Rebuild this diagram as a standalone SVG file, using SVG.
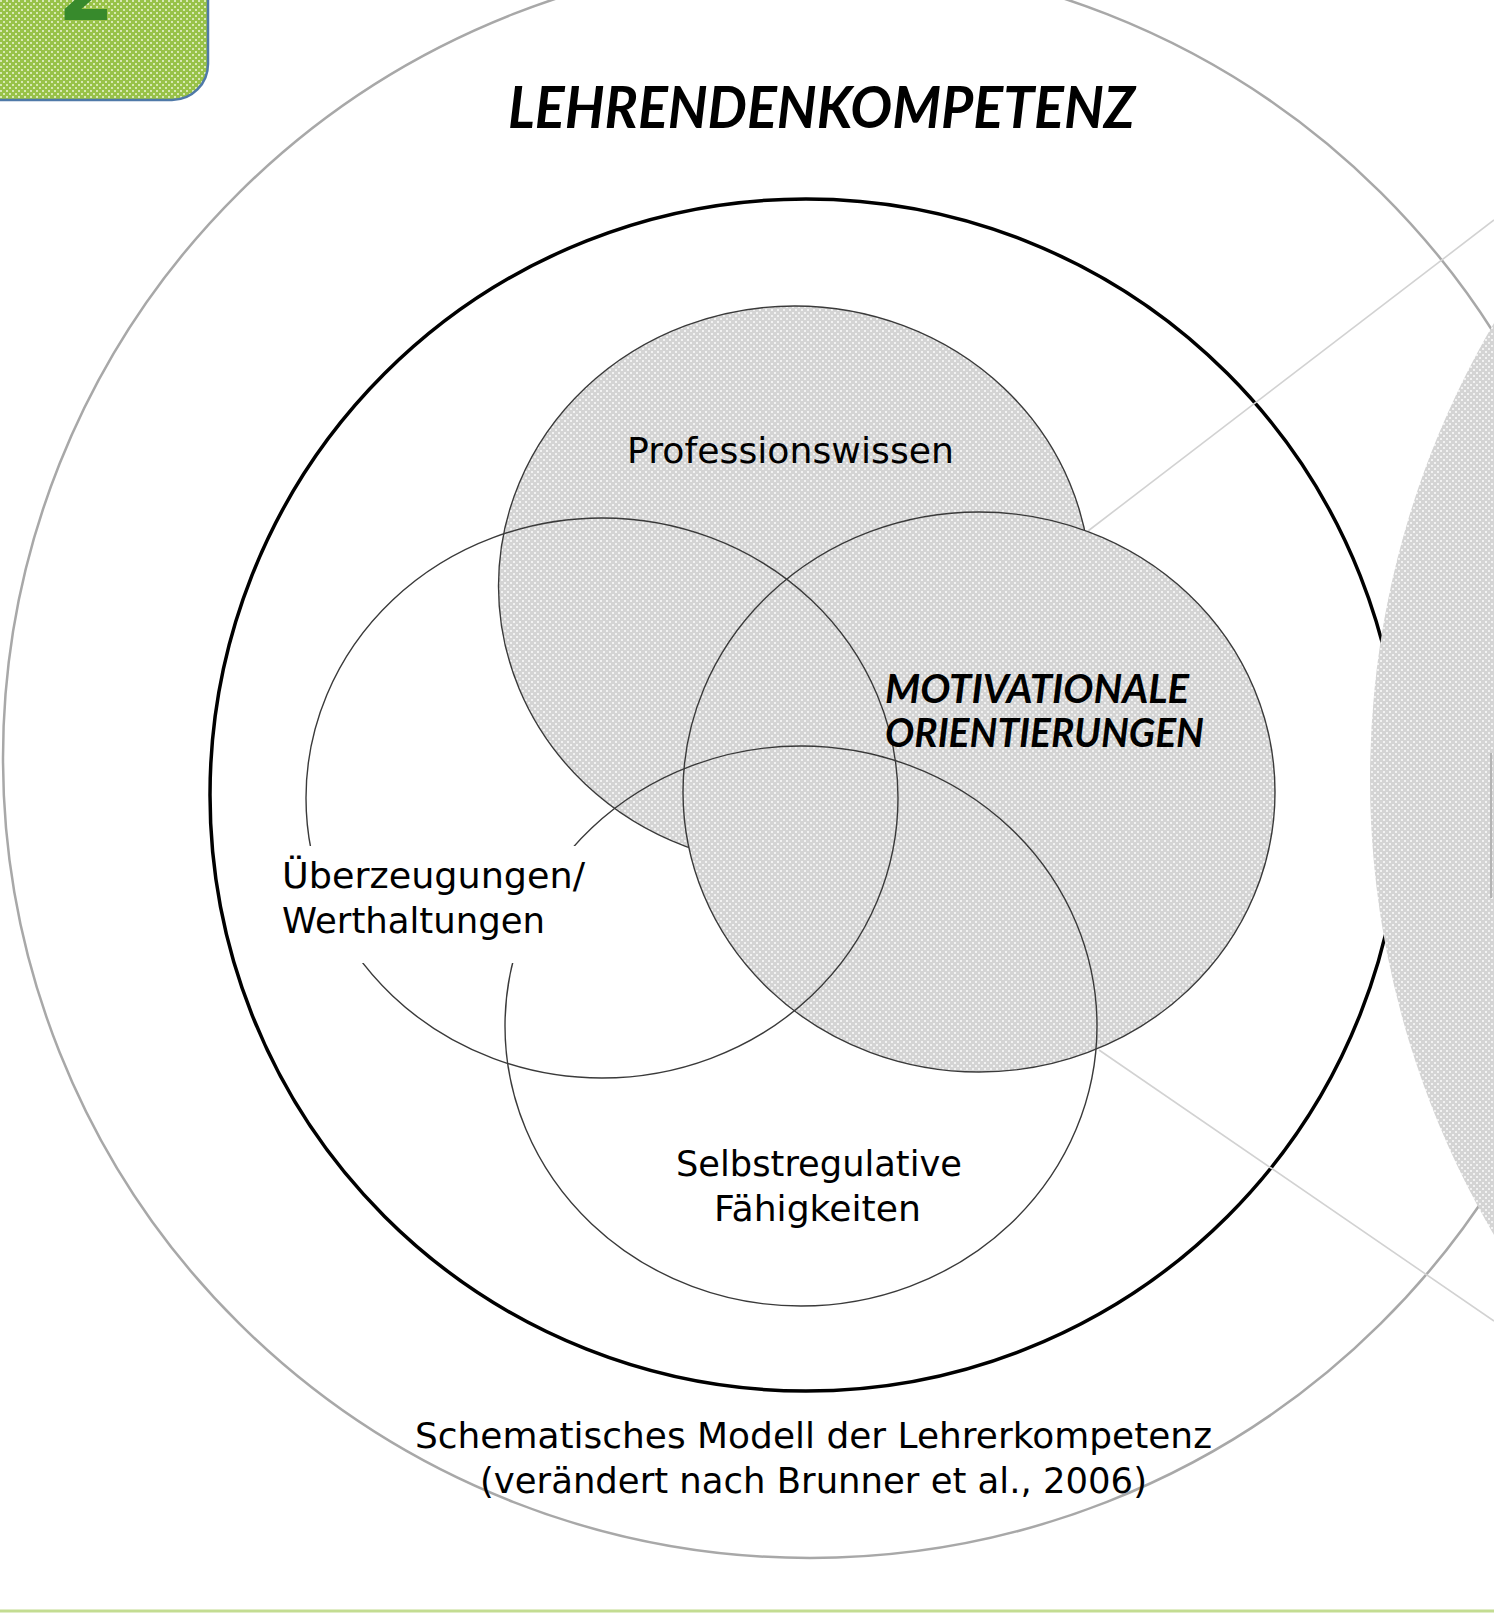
<svg xmlns="http://www.w3.org/2000/svg" width="1494" height="1618" viewBox="0 0 1494 1618">
  <defs>
    <!-- light grey dotted grid used for the shaded sets -->
    <pattern id="greyDots" width="6" height="6" patternUnits="userSpaceOnUse">
      <rect width="6" height="6" fill="#d4d4d4"/>
      <rect x="0" y="0" width="2" height="2" fill="#f2f2f2"/>
      <rect x="3" y="3" width="2" height="2" fill="#f2f2f2"/>
    </pattern>
    <!-- green dotted grid for the corner tab -->
    <pattern id="greenDots" width="6" height="6" patternUnits="userSpaceOnUse">
      <rect width="6" height="6" fill="#98c248"/>
      <rect x="0" y="0" width="2" height="2" fill="#d8e9b4"/>
      <rect x="3" y="3" width="2" height="2" fill="#d8e9b4"/>
    </pattern>
    <style>
      .venn { stroke: #3a3a3a; stroke-width: 1.4; }
      .shaded { fill: url(#greyDots); }
      .open { fill: none; }
      .label { font-family: "DejaVu Sans", "Liberation Sans", sans-serif; font-size: 36px; fill: #000; }
      .heading { font-family: Lato, "Open Sans", sans-serif; font-weight: bold; font-style: italic; fill: #000; }
      .guide { stroke: #d2d2d2; stroke-width: 1.6; fill: none; }
    </style>
  </defs>

  <rect width="1494" height="1618" fill="#ffffff"/>

  <!-- corner tab -->
  <g id="tab">
    <rect x="-40" y="-40" width="248" height="140" rx="36" ry="36" fill="url(#greenDots)" stroke="#4f79a8" stroke-width="2.5"/>
    <text x="86" y="20" text-anchor="middle" font-family="DejaVu Sans, sans-serif" font-weight="bold" font-size="80" fill="#378a2c">2</text>
  </g>

  <!-- outer frame circles -->
  <g id="outer-ring">
    <ellipse cx="810" cy="758" rx="807" ry="800" fill="none" stroke="#a8a8a8" stroke-width="2.5"/>
  </g>
  <g id="competence-circle">
    <circle cx="806" cy="795" r="596" fill="none" stroke="#000" stroke-width="3.5"/>
  </g>

  <!-- connectors -->
  <g id="connectors">
    <line class="guide" x1="1088" y1="531" x2="1494" y2="220"/>
    <line class="guide" x1="1099" y1="1050" x2="1494" y2="1321"/>
  </g>

  <!-- large shaded shape at the right edge -->
  <g id="side-shape">
    <circle cx="2270" cy="779" r="900" class="shaded"/>
    <line x1="1491" y1="753" x2="1491" y2="898" stroke="#b4b4b4" stroke-width="2"/>
  </g>

  <!-- title -->
  <g id="title">
    <text class="heading" x="508" y="128" font-size="57" textLength="627" lengthAdjust="spacingAndGlyphs">LEHRENDENKOMPETENZ</text>
  </g>

  <!-- venn sets -->
  <g id="professionswissen">
    <ellipse cx="794.5" cy="586" rx="296" ry="280" class="venn shaded"/>
  </g>
  <g id="motivationale-orientierungen">
    <ellipse cx="979" cy="792" rx="296" ry="280" class="venn shaded"/>
  </g>
  <g id="ueberzeugungen">
    <ellipse cx="602" cy="798" rx="296" ry="280" class="venn open"/>
  </g>
  <g id="selbstregulative-faehigkeiten">
    <ellipse cx="801" cy="1026" rx="296" ry="280" class="venn open"/>
  </g>

  <!-- set labels -->
  <g id="label-professionswissen">
    <text class="label" x="627" y="463" textLength="327" lengthAdjust="spacingAndGlyphs">Professionswissen</text>
  </g>
  <g id="label-motivationale">
    <text class="heading" x="885" y="703" font-size="40" textLength="304" lengthAdjust="spacingAndGlyphs">MOTIVATIONALE</text>
    <text class="heading" x="885" y="747" font-size="40" textLength="319" lengthAdjust="spacingAndGlyphs">ORIENTIERUNGEN</text>
  </g>
  <g id="label-ueberzeugungen">
    <rect x="270" y="846" width="330" height="117" fill="#ffffff"/>
    <text class="label" x="282" y="888" textLength="303" lengthAdjust="spacingAndGlyphs">Überzeugungen/</text>
    <text class="label" x="282" y="933" textLength="263" lengthAdjust="spacingAndGlyphs">Werthaltungen</text>
  </g>
  <g id="label-selbstregulative">
    <text class="label" x="676" y="1176" textLength="286" lengthAdjust="spacingAndGlyphs">Selbstregulative</text>
    <text class="label" x="714" y="1221" textLength="207" lengthAdjust="spacingAndGlyphs">Fähigkeiten</text>
  </g>

  <!-- caption -->
  <g id="caption">
    <text class="label" x="415" y="1448" textLength="797" lengthAdjust="spacingAndGlyphs">Schematisches Modell der Lehrerkompetenz</text>
    <text class="label" x="480" y="1493" textLength="667" lengthAdjust="spacingAndGlyphs">(verändert nach Brunner et al., 2006)</text>
  </g>

  <!-- footer rule -->
  <line x1="0" y1="1611" x2="1494" y2="1611" stroke="#c3dc92" stroke-width="3"/>
</svg>
